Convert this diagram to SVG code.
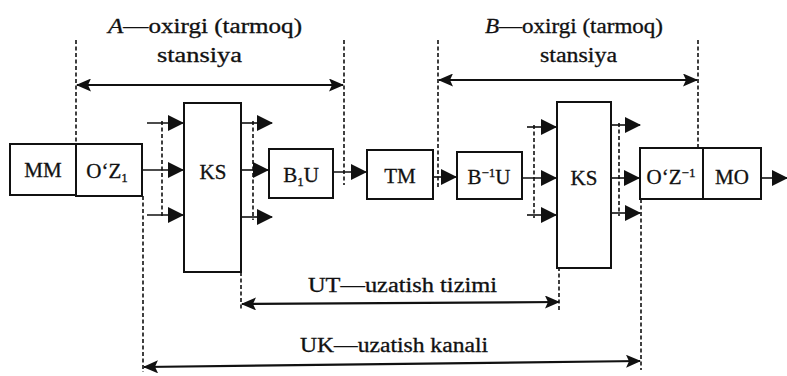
<svg xmlns="http://www.w3.org/2000/svg" width="787" height="376" viewBox="0 0 787 376">
  <defs>
    <marker id="head" viewBox="0 0 16 16" refX="15" refY="8" markerWidth="16" markerHeight="16" markerUnits="userSpaceOnUse" orient="auto-start-reverse">
      <path d="M0,0 L16,8 L0,16 Z" fill="#111"/>
    </marker>
    <marker id="dim" viewBox="0 0 15 13" refX="14" refY="6.5" markerWidth="15" markerHeight="13" markerUnits="userSpaceOnUse" orient="auto-start-reverse">
      <path d="M0,0 L15,6.5 L0,13 L3,6.5 Z" fill="#111"/>
    </marker>
  </defs>
  <style>
    .box { fill: #fff; stroke: #111; stroke-width: 2; }
    .lbl { font-family: "Liberation Serif", "DejaVu Serif", serif; font-size: 21px; fill: #111; stroke: #111; stroke-width: 0.3; text-anchor: middle; }
    .cap { font-family: "Liberation Serif", "DejaVu Serif", serif; font-size: 20px; fill: #111; stroke: #111; stroke-width: 0.3; }
    .sub { font-size: 13px; }
    .flow { stroke: #111; stroke-width: 1.6; fill: none; marker-end: url(#head); }
    .span { stroke: #111; stroke-width: 2.2; fill: none; marker-start: url(#dim); marker-end: url(#dim); }
    .dash { stroke: #111; stroke-width: 1.6; stroke-dasharray: 4 2.5; fill: none; }
  </style>
  <rect width="787" height="376" fill="#fff"/>

  <!-- boundary guides and flow connectors -->
  <g id="connectors">
    <!-- station / system / channel boundaries -->
    <line class="dash" x1="76" y1="40" x2="76" y2="144"/>
    <line class="dash" x1="344" y1="40" x2="344" y2="185"/>
    <line class="dash" x1="438" y1="40" x2="438" y2="188"/>
    <line class="dash" x1="698" y1="40" x2="698" y2="148"/>
    <line class="dash" x1="143" y1="196" x2="143" y2="372"/>
    <line class="dash" x1="241" y1="272" x2="241" y2="310"/>
    <line class="dash" x1="559" y1="267" x2="559" y2="310"/>
    <line class="dash" x1="641" y1="199" x2="641" y2="370"/>
    <!-- fan buses -->
    <line class="dash" x1="162" y1="121" x2="162" y2="218"/>
    <line class="dash" x1="253" y1="121" x2="253" y2="220"/>
    <line class="dash" x1="534" y1="125" x2="534" y2="218"/>
    <line class="dash" x1="619" y1="123" x2="619" y2="216"/>

    <!-- into first KS -->
    <line class="flow" x1="147" y1="123" x2="183" y2="123"/>
    <line class="flow" x1="142" y1="170" x2="183" y2="170"/>
    <line class="flow" x1="147" y1="215" x2="183" y2="215"/>
    <!-- out of first KS -->
    <line class="flow" x1="242" y1="123" x2="272" y2="123"/>
    <line class="flow" x1="242" y1="170" x2="268" y2="170"/>
    <line class="flow" x1="242" y1="217" x2="272" y2="217"/>
    <line class="flow" x1="333" y1="172" x2="366" y2="172"/>
    <line class="flow" x1="433" y1="177" x2="456" y2="177"/>
    <!-- into second KS -->
    <line class="flow" x1="527" y1="127" x2="556" y2="127"/>
    <line class="flow" x1="522" y1="178" x2="556" y2="178"/>
    <line class="flow" x1="527" y1="215" x2="556" y2="215"/>
    <!-- out of second KS -->
    <line class="flow" x1="611" y1="125" x2="640" y2="125"/>
    <line class="flow" x1="611" y1="178" x2="639" y2="178"/>
    <line class="flow" x1="611" y1="213" x2="640" y2="213"/>
    <line class="flow" x1="761" y1="178" x2="787" y2="178"/>

    <!-- span arrows -->
    <line class="span" x1="77" y1="85" x2="343" y2="85"/>
    <line class="span" x1="439" y1="80" x2="697" y2="80"/>
    <line class="span" x1="242" y1="304" x2="559" y2="302"/>
    <line class="span" x1="144" y1="367" x2="640" y2="361"/>
  </g>

  <g id="node-mm">
    <rect class="box" x="10" y="144" width="66" height="51"/>
    <text class="lbl" x="43" y="177">MM</text>
  </g>
  <g id="node-oz1">
    <rect class="box" x="76" y="144" width="66" height="52"/>
    <text class="lbl" x="107" y="178">O‘Z<tspan class="sub" dy="4">1</tspan></text>
  </g>
  <g id="node-ks-a">
    <rect class="box" x="184" y="103" width="57" height="169"/>
    <text class="lbl" x="213" y="179">KS</text>
  </g>
  <g id="node-b1u">
    <rect class="box" x="269" y="149" width="64" height="49"/>
    <text class="lbl" x="301" y="182">B<tspan class="sub" dy="4">1</tspan><tspan dy="-4">U</tspan></text>
  </g>
  <g id="node-tm">
    <rect class="box" x="367" y="150" width="66" height="49"/>
    <text class="lbl" x="400" y="183">TM</text>
  </g>
  <g id="node-binv">
    <rect class="box" x="457" y="152" width="65" height="47"/>
    <text class="lbl" x="489" y="184">B<tspan class="sub" dy="-7">−1</tspan><tspan dy="7">U</tspan></text>
  </g>
  <g id="node-ks-b">
    <rect class="box" x="557" y="102" width="54" height="166"/>
    <text class="lbl" x="584" y="185">KS</text>
  </g>
  <g id="node-ozinv">
    <rect class="box" x="640" y="148" width="63" height="51"/>
    <text class="lbl" x="671" y="184">O‘Z<tspan class="sub" dy="-7">−1</tspan></text>
  </g>
  <g id="node-mo">
    <rect class="box" x="703" y="148" width="58" height="51"/>
    <text class="lbl" x="732" y="184">MO</text>
  </g>

  <g id="labels">
    <text class="cap" x="108" y="33" textLength="194" lengthAdjust="spacingAndGlyphs"><tspan font-style="italic">A</tspan>—oxirgi  (tarmoq)</text>
    <text class="cap" x="157" y="62" textLength="85" lengthAdjust="spacingAndGlyphs">stansiya</text>
    <text class="cap" x="485" y="33" textLength="178" lengthAdjust="spacingAndGlyphs"><tspan font-style="italic">B</tspan>—oxirgi  (tarmoq)</text>
    <text class="cap" x="540" y="62" textLength="77" lengthAdjust="spacingAndGlyphs">stansiya</text>
    <text class="cap" x="308" y="292" textLength="189" lengthAdjust="spacingAndGlyphs">UT—uzatish  tizimi</text>
    <text class="cap" x="300" y="352" textLength="188" lengthAdjust="spacingAndGlyphs">UK—uzatish  kanali</text>
  </g>
</svg>
